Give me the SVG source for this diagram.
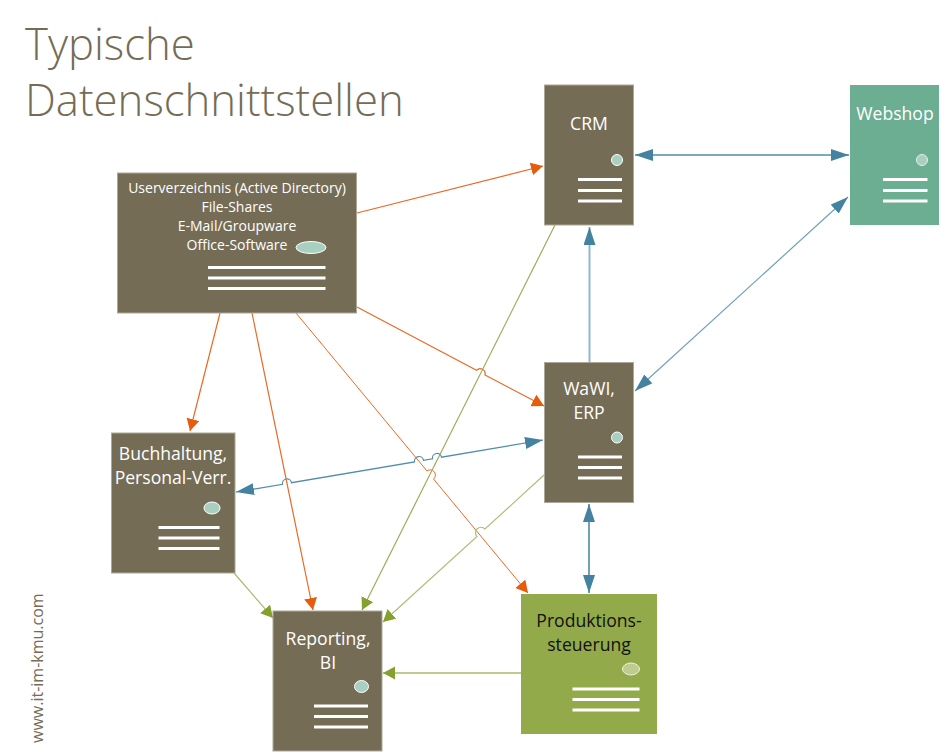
<svg xmlns="http://www.w3.org/2000/svg" width="944" height="754" viewBox="0 0 944 754">
<style>
text{font-family:"Open Sans","Noto Sans","Liberation Sans",sans-serif}
.t{fill:#fff;font-size:17.6px;text-anchor:middle}
.s{fill:#fff;font-size:14px;text-anchor:middle}
.k{fill:#111;font-size:17.6px;text-anchor:middle}
.h{fill:#756c56;font-size:43.700px;font-weight:300}
.b{fill:#756c56;stroke:#aca796;stroke-width:1}
.l{stroke:#fff;stroke-width:3;fill:none}
.d{fill:#a9cfc1;stroke:#fff;stroke-width:1}
.o{fill:none;stroke:#e86a25;stroke-width:1.200;marker-end:url(#mo)}
.g{fill:none;stroke:#9bad5c;stroke-width:1.200;marker-end:url(#mg)}
.u{fill:none;stroke:#4f8da8;stroke-width:1.200;marker-start:url(#mu);marker-end:url(#mu)}
</style>
<defs>
<marker id="mo" markerUnits="userSpaceOnUse" markerWidth="14" markerHeight="14" refX="12" refY="6.500" orient="auto"><path d="M0 0L12 6.500L0 13Z" fill="#e85a0c"/></marker>
<marker id="mg" markerUnits="userSpaceOnUse" markerWidth="14" markerHeight="14" refX="12" refY="6.500" orient="auto"><path d="M0 0L12 6.500L0 13Z" fill="#84a02e"/></marker>
<marker id="mu" markerUnits="userSpaceOnUse" markerWidth="20" markerHeight="14" refX="18" refY="6" orient="auto-start-reverse"><path d="M0 0L18 6L0 12Z" fill="#43839f"/></marker>
</defs>
<text class="h" x="25" y="60">Typische</text>
<text class="h" x="25" y="116">Datenschnittstellen</text>
<text x="43" y="743" transform="rotate(-90 43 743)" style="font-size:16px;fill:#756c56">www.it-im-kmu.com</text>
<g id="connectors">
<path class="o" d="M357 213L543 166"/>
<path class="o" d="M357 307L476.500 370.300A5 5 0 0 1 485 375L544 406"/>
<path class="o" d="M220 313L190 431"/>
<path class="o" d="M252 313L313 610"/>
<path class="o" style="stroke-width:1" d="M296 313L427 471A5 5 0 0 1 433.500 479L528 593"/>
<path class="g" d="M555 225L362 610"/>
<path class="g" style="stroke:#aebd7a" d="M544 475L485 529A5 5 0 0 0 477 536.500L383 622"/>
<path class="g" style="stroke:#a9b96f" d="M234 573L273 618"/>
<path class="g" style="stroke:#bccd8d;stroke-width:2" d="M521 673L383 673"/>
<path class="u" style="stroke-width:1.500" d="M635 155L849 155"/>
<path class="u" style="marker-start:none;stroke:#8fb9ca;stroke-width:2" d="M589.500 362L589.500 227"/>
<path class="u" style="stroke:#6fa1b6" d="M848 197L635 391"/>
<path class="u" style="stroke:#6ea2b8;stroke-width:2" d="M589 504L589 593"/>
<path class="u" d="M543 440L441.500 457.200A4.500 4.500 0 0 0 432.500 458.800L423.500 460.300A4.500 4.500 0 0 0 414.500 461.900L291.500 482.700A4.500 4.500 0 0 0 282.500 484.300L236 492"/>
</g>
<g id="userverzeichnis">
<rect class="b" x="117.500" y="173" width="239" height="140"/>
<text class="s" x="237" y="193">Userverzeichnis (Active Directory)</text>
<text class="s" x="237" y="212">File-Shares</text>
<text class="s" x="237" y="231">E-Mail/Groupware</text>
<text class="s" x="237" y="250">Office-Software</text>
<ellipse class="d" cx="311" cy="247.500" rx="15" ry="6"/>
<path class="l" d="M208 267.500H325.500M208 278H325.500M208 288.500H325.500"/>
</g>
<g id="crm">
<rect class="b" x="544.500" y="85" width="89" height="140"/>
<text class="t" x="589" y="130">CRM</text>
<circle class="d" cx="617" cy="160" r="5.500"/>
<path class="l" d="M578 179.500H622M578 190.500H622M578 201H622"/>
</g>
<g id="webshop">
<rect x="850" y="85" width="89" height="140" fill="#6cae91"/>
<text class="t" x="895" y="120">Webshop</text>
<circle cx="922" cy="160" r="5.500" fill="#a9cfc1" stroke="#e3f0ea"/>
<path class="l" d="M883 179.500H927.500M883 190.500H927.500M883 201H927.500"/>
</g>
<g id="wawi">
<rect class="b" x="544.500" y="362.500" width="89" height="140"/>
<text class="t" x="589" y="395">WaWI,</text>
<text class="t" x="589" y="419">ERP</text>
<circle class="d" cx="617" cy="437.500" r="5.500"/>
<path class="l" d="M578 457H622M578 467.500H622M578 478H622"/>
</g>
<g id="buchhaltung">
<rect class="b" x="111.500" y="433" width="123.500" height="140"/>
<text class="t" x="173" y="460">Buchhaltung,</text>
<text class="t" x="173" y="484">Personal-Verr.</text>
<ellipse class="d" cx="212" cy="508" rx="8" ry="6"/>
<path class="l" d="M158.500 527.500H219.500M158.500 538H219.500M158.500 548.500H219.500"/>
</g>
<g id="reporting">
<rect class="b" x="273" y="611" width="109" height="140"/>
<text class="t" x="328" y="645">Reporting,</text>
<text class="t" x="328" y="669">BI</text>
<ellipse class="d" cx="361.500" cy="686.500" rx="7" ry="6"/>
<path class="l" d="M314 706H368M314 716.500H368M314 727H368"/>
</g>
<g id="produktion">
<rect x="521" y="594" width="136" height="140" fill="#93aa4a"/>
<text class="k" x="589" y="627">Produktions-</text>
<text class="k" x="589" y="651">steuerung</text>
<ellipse cx="631" cy="669" rx="8.500" ry="6" fill="#bfcc8f" stroke="#eef2dd"/>
<path class="l" d="M572.500 689H639.500M572.500 699.500H639.500M572.500 710H639.500"/>
</g>
</svg>
